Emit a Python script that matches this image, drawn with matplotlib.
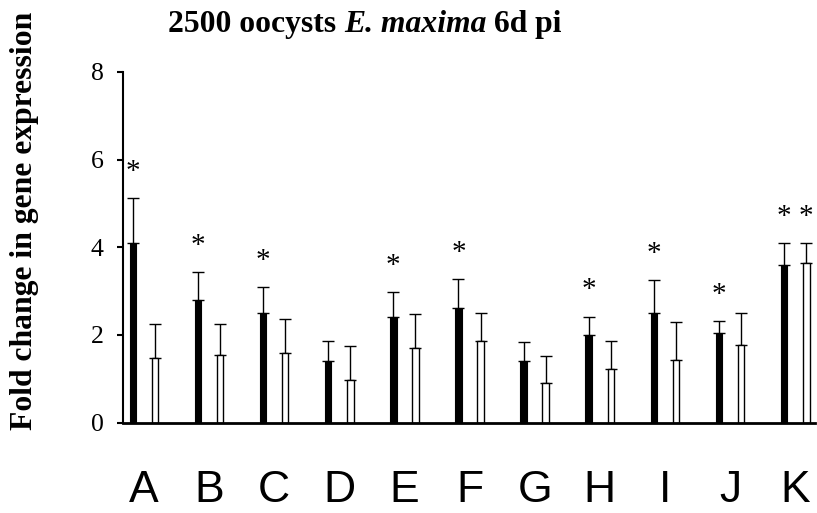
import matplotlib
matplotlib.use("Agg")
import matplotlib.pyplot as plt
import numpy as np

# Daten
genes = ['A', 'B', 'C', 'D', 'E', 'F', 'G', 'H', 'I', 'J', 'K']
black_vals = [4.10, 2.80, 2.50, 1.40, 2.42, 2.61, 1.40, 1.99, 2.50, 2.04, 3.59]
black_err = [1.03, 0.63, 0.60, 0.46, 0.56, 0.66, 0.43, 0.43, 0.76, 0.28, 0.51]
white_vals = [1.48, 1.55, 1.59, 0.97, 1.70, 1.86, 0.90, 1.23, 1.44, 1.77, 3.63]
white_err = [0.77, 0.70, 0.77, 0.78, 0.78, 0.64, 0.63, 0.63, 0.85, 0.74, 0.46]
black_sig = [True, True, True, False, True, True, False, True, True, True, True]
white_sig = [False, False, False, False, False, False, False, False, False, False, True]

title_parts = [('2500 oocysts ', 'normal'), ('E. maxima', 'italic'), (' 6d pi', 'normal')]

fig = plt.figure(figsize=(8.17, 5.13), dpi=100)
ax = fig.add_axes([0.150, 0.176, 0.848, 0.684])

x = np.arange(len(genes))
off = 0.17
w = 0.10

ax.bar(x - off, black_vals, w, color='black', edgecolor='black', linewidth=0.8, zorder=2)
ax.bar(x + off, white_vals, w, color='white', edgecolor='black', linewidth=1.0, zorder=2)

ax.errorbar(x - off, black_vals, yerr=[np.zeros(len(x)), black_err], fmt='none',
            ecolor='black', elinewidth=1.0, capsize=4.5, capthick=1.0, zorder=1)
ax.errorbar(x + off, white_vals, yerr=[np.zeros(len(x)), white_err], fmt='none',
            ecolor='black', elinewidth=1.0, capsize=4.5, capthick=1.0, zorder=1)

# Sternchen fuer Signifikanz
for i in range(len(genes)):
    if black_sig[i]:
        ax.text(x[i] - off, black_vals[i] + black_err[i] + 0.3, '*', ha='center', va='bottom',
                fontsize=21, family='Liberation Serif')
    if white_sig[i]:
        ax.text(x[i] + off, white_vals[i] + white_err[i] + 0.3, '*', ha='center', va='bottom',
                fontsize=21, family='Liberation Serif')

ax.set_xlim(-0.327, 10.31)
ax.set_ylim(0, 8)
ax.set_yticks([0, 2, 4, 6, 8])
ax.set_yticklabels(['0', '2', '4', '6', '8'], fontsize=18.5, family='Liberation Serif')
ax.tick_params(axis='y', direction='out', length=4.5, width=1.5, pad=9)

ax.set_xticks(x)
ax.set_xticklabels(genes, fontsize=32, family='Liberation Sans')
ax.tick_params(axis='x', length=0, pad=34)

ax.spines['top'].set_visible(False)
ax.spines['right'].set_visible(False)
ax.spines['left'].set_linewidth(1.5)
ax.spines['bottom'].set_linewidth(2.0)

# y-Beschriftung etwas oberhalb der Achsenmitte (wie im Original)
fig.text(0.030, 0.569, 'Fold change in gene expression', rotation=90, ha='center', va='center',
         fontsize=22.8, fontweight='bold', family='Liberation Serif')

# Titel aus Teilstuecken zusammensetzen (Artname kursiv)
renderer = fig.canvas.get_renderer()
xpos = 168 / 817
for txt, style in title_parts:
    t = fig.text(xpos, 0.937, txt, ha='left', va='baseline', fontsize=22.8,
                 fontweight='bold', style=style, family='Liberation Serif')
    bb = t.get_window_extent(renderer)
    xpos += bb.width / fig.bbox.width

plt.savefig('out.png', dpi=100)
